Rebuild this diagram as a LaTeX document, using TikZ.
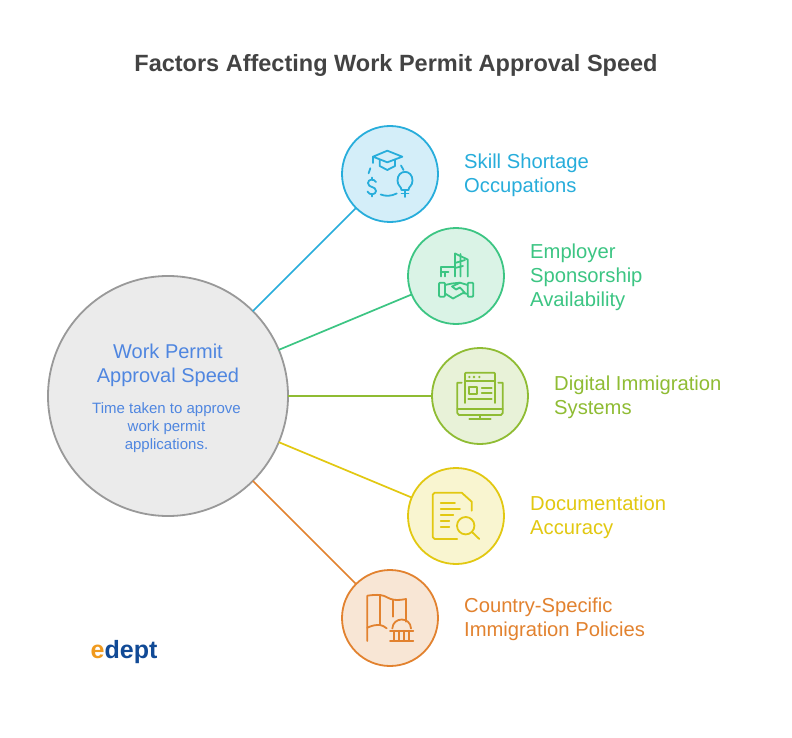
\documentclass[tikz,border=0pt]{standalone}
\usepackage{fontspec}
\setmainfont{Liberation Sans}
\definecolor{cblue}{HTML}{27ADDB}\definecolor{fblue}{HTML}{D4EEF9}
\definecolor{cgreen}{HTML}{3CC583}\definecolor{fgreen}{HTML}{DAF3E6}
\definecolor{colive}{HTML}{8FBC33}\definecolor{folive}{HTML}{E8F2D8}
\definecolor{cyellow}{HTML}{E2C811}\definecolor{fyellow}{HTML}{F9F5D0}
\definecolor{corange}{HTML}{E2822F}\definecolor{forange}{HTML}{F8E6D5}
\definecolor{cmain}{HTML}{4F86E0}\definecolor{ctitle}{HTML}{434343}
\definecolor{logoblue}{HTML}{114A96}\definecolor{logoorange}{HTML}{F09A1E}
\tikzset{
  x=1pt,y=-1pt,
  factor/.style={circle,draw=#1,line width=1.8pt,minimum size=96pt,inner sep=0pt,outer sep=0pt},
  link/.style={line width=1.7pt,draw=#1},
  lbl/.style={anchor=west,align=left,inner sep=0pt,text=#1,font=\fontsize{20.2}{24}\selectfont},
  ico/.style={line width=1.8pt,draw=#1,line cap=round,line join=round},
}
\begin{document}
\begin{tikzpicture}
\useasboundingbox[fill=white] (0,0) rectangle (792,738);
\node[inner sep=0pt,text=ctitle,font=\fontsize{23.5}{28}\selectfont\bfseries] (title) at (396,65) {Factors Affecting Work Permit Approval Speed};
\node[circle,draw=black!40,fill=black!8,line width=1.8pt,minimum size=240pt,inner sep=0pt,outer sep=0pt] (main) at (168,396) {};
\node[factor=cblue,fill=fblue] (c1) at (390,174) {};
\node[factor=cgreen,fill=fgreen] (c2) at (456,276) {};
\node[factor=colive,fill=folive] (c3) at (480,396) {};
\node[factor=cyellow,fill=fyellow] (c4) at (456,516) {};
\node[factor=corange,fill=forange] (c5) at (390,618) {};
\draw[link=cblue] (main) -- (c1);
\draw[link=cgreen] (main) -- (c2);
\draw[link=colive] (main) -- (c3);
\draw[link=cyellow] (main) -- (c4);
\draw[link=corange] (main) -- (c5);
\node[align=center,inner sep=0pt,text=cmain,font=\fontsize{20}{24}\selectfont] (mt) at (168,365) {Work Permit\\Approval Speed};
\node[align=center,inner sep=0pt,text=cmain,font=\fontsize{15}{18}\selectfont] (md) at (166.5,427.5) {Time taken to approve\\work permit\\applications.};
\node[lbl=cblue] (l1) at (464,175.5) {Skill Shortage\\Occupations};
\node[lbl=cgreen] (l2) at (530,277.5) {Employer\\Sponsorship\\Availability};
\node[lbl=colive] (l3) at (554,397.5) {Digital Immigration\\Systems};
\node[lbl=cyellow] (l4) at (530,517.5) {Documentation\\Accuracy};
\node[lbl=corange] (l5) at (464,619.5) {Country-Specific\\Immigration Policies};
\node[anchor=west,inner sep=0pt,font=\fontsize{25}{28}\selectfont\bfseries,text=logoblue] (logo) at (90.5,652) {\textcolor{logoorange}{e}dept};
% icon 1
\draw[ico=cblue] (387.3,150.7) -- (402.3,156.7) -- (387.3,162.3) -- (373,156.7) -- cycle;
\draw[ico=cblue] (379.7,160) -- (379.7,166) -- (387.3,170) -- (395,166) -- (395,160);
\draw[ico=cblue] (373,156.7) -- (373,163);
\draw[ico=cblue] (370.3,168.3) -- (368.6,173.3);
\draw[ico=cblue] (401,165.5) -- (403.5,170);
\draw[ico=cblue] (380.7,194.5) .. controls (386,196.5) and (391,196.2) .. (396.7,193.5);
\draw[ico=cblue] (376,182) .. controls (374,178.5) and (368,179) .. (368,183) .. controls (368,188) and (376,186) .. (376,191) .. controls (376,195) and (369,195.5) .. (367.5,191.5);
\draw[ico=cblue] (371.7,177.5) -- (371.7,179.5) (371.7,194.5) -- (371.7,196.5);
\draw[ico=cblue] (401.5,190) .. controls (401.5,186.5) and (397.5,186) .. (397.5,180.5) .. controls (397.5,169) and (412.5,169) .. (412.5,180.5) .. controls (412.5,186) and (408.5,186.5) .. (408.5,190) -- cycle;
\draw[ico=cblue] (401.5,193.5) -- (408.5,193.5) (405,190) -- (405,197);
% icon 2
\draw[ico=cgreen] (455,276.5) -- (455,253.5) -- (467.7,259.5) -- (467.7,276.5);
\draw[ico=cgreen] (460.5,254) -- (460.5,276.5) (455,263) -- (465,260) (455,268) -- (463,266);
\draw[ico=cgreen] (440.7,276.5) -- (440.7,266.7) -- (455,266.7);
\draw[ico=cgreen] (440.7,271.7) -- (448.5,271.7) (445,271.7) -- (445,276.5);
\draw[ico=cgreen,rounded corners=1pt] (439,282.7) rectangle (445,296.7);
\draw[ico=cgreen,rounded corners=1pt] (467.7,282.7) rectangle (473.3,296.7);
\draw[ico=cgreen] (445,285) -- (452,283.5) -- (460,282.7) -- (467.7,285);
\draw[ico=cgreen] (445,293.5) -- (453,298.5) -- (463,293) -- (467.7,294);
\draw[ico=cgreen] (460,282.7) -- (452,286.5) -- (456,289.5) -- (460,287.5) -- (465,293);
% icon 3
\draw[ico=colive] (461.7,382.7) -- (457.3,382.7) -- (457.3,413) -- (459,415) -- (501,415) -- (502.7,413) -- (502.7,382.7) -- (498.3,382.7);
\draw[ico=colive] (457.3,409) -- (502.7,409);
\draw[ico=colive] (480,415) -- (480,419) (469.3,419) -- (490.7,419);
\draw[ico=colive,rounded corners=1pt] (465,403) -- (465,372.7) -- (495,372.7) -- (495,403);
\draw[ico=colive] (465,380.7) -- (495,380.7);
\fill[colive] (469.3,377) circle (1.3pt) (474,377) circle (1.3pt) (479.3,377) circle (1.3pt);
\draw[ico=colive] (469,386.7) rectangle (477.3,394.3);
\draw[ico=colive] (481.7,387.7) -- (491.7,387.7) (481.7,392.7) -- (491.7,392.7) (468.3,399) -- (491.7,399);
% icon 4
\draw[ico=cyellow] (471.7,510.7) -- (471.7,501.7) -- (461.7,492.7) -- (434.7,492.7) -- (432.7,494.7) -- (432.7,537) -- (434.7,539) -- (457.3,539);
\draw[ico=cyellow] (440.7,502.7) -- (455,502.7) (440.7,508.7) -- (460,508.7) (440.7,514.7) -- (453.3,514.7) (440.7,520.7) -- (449.3,520.7) (440.7,526.7) -- (449.3,526.7);
\draw[ico=cyellow] (465.7,525.7) circle (8.7pt);
\draw[ico=cyellow] (472.7,532.7) -- (479.3,539);
% icon 5
\draw[ico=corange] (367.3,641) -- (367.3,595.7) .. controls (372,595) and (376,594.7) .. (380,595) .. controls (386,595.5) and (388,599) .. (394,599.8) .. controls (398,600.2) and (402,599.8) .. (406,599) -- (406,621.7);
\draw[ico=corange] (380,595) -- (380,625) (393.3,600) -- (393.3,616.7);
\draw[ico=corange] (367.3,627.7) .. controls (372,625.5) and (376,624.7) .. (380,625) .. controls (382.5,625.2) and (384.5,626.8) .. (386.7,628.3);
\draw[ico=corange] (392.3,628.5) .. controls (393,616.5) and (410.5,616.5) .. (411,628.5);
\draw[ico=corange] (390,630.7) -- (413.3,630.7) (390,640.7) -- (413.3,640.7);
\draw[ico=corange] (394.3,630.7) -- (394.3,640.7) (399,630.7) -- (399,640.7) (404,630.7) -- (404,640.7) (409,630.7) -- (409,640.7);
\end{tikzpicture}
\end{document}
